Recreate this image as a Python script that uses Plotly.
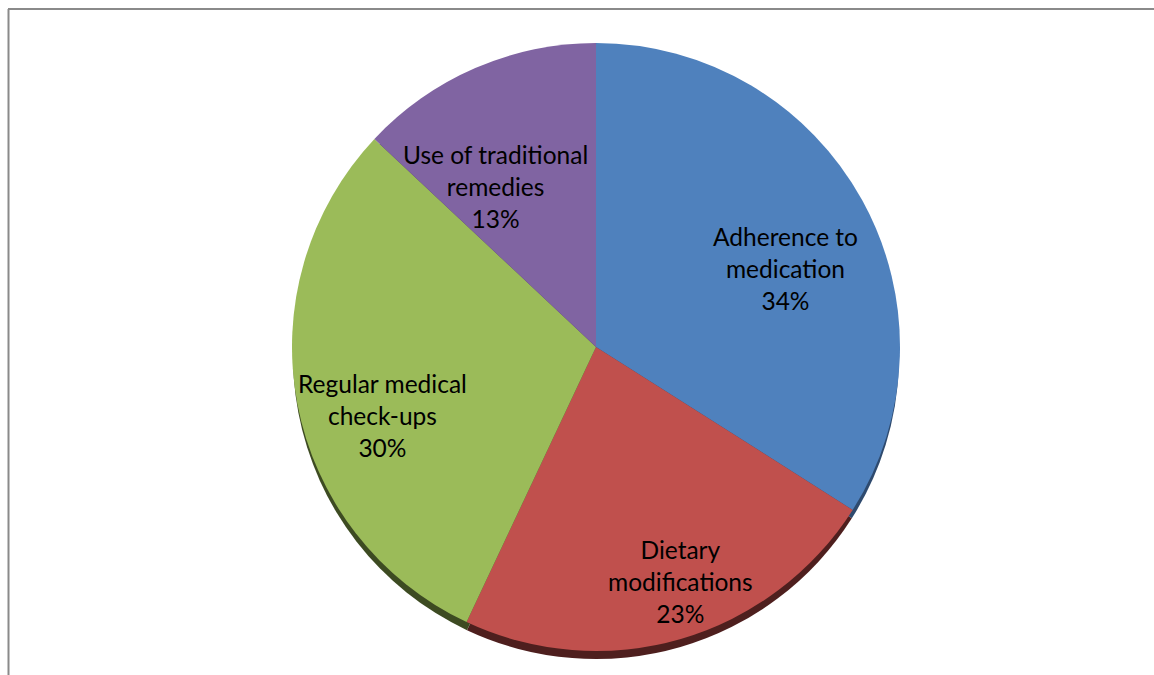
import plotly.graph_objects as go

categories = ["Adherence to medication", "Dietary modifications",
              "Regular medical check-ups", "Use of traditional remedies"]
label_lines = [["Adherence to", "medication"], ["Dietary", "modifications"],
               ["Regular medical", "check-ups"], ["Use of traditional", "remedies"]]
values = [34, 23, 30, 13]

colors = ["#4F81BD", "#C0504D", "#9BBB59", "#8064A2"]
shadow_colors = ["#2E4A6E", "#4E1F1E", "#3D4B22", "#4A3A5E"]
# label block centres in pixels (from top-left)
label_px = [(785, 268), (680, 581), (383, 415), (495, 186)]

W, H = 1154, 675
cx, cy, r = 596, 347, 304  # pixels (from top)


def dom(cx, cy, r):
    return dict(x=[(cx - r) / W, (cx + r) / W],
                y=[(H - cy - r) / H, (H - cy + r) / H])


fig = go.Figure()
# shadow (3D edge)
fig.add_trace(go.Pie(
    labels=categories, values=values, sort=False, direction="clockwise", rotation=0,
    marker=dict(colors=shadow_colors, line=dict(width=0)),
    textinfo="none", hoverinfo="skip", showlegend=False,
    domain=dom(cx, cy + 9, r - 1),
))
fig.add_trace(go.Pie(
    labels=categories, values=values, sort=False, direction="clockwise", rotation=0,
    marker=dict(colors=colors, line=dict(width=0)),
    textinfo="none", showlegend=False,
    domain=dom(cx, cy, r),
))

total = sum(values)
annotations = []
for lines, v, (px, py) in zip(label_lines, values, label_px):
    txt = "<br>".join(lines + [f"{round(100 * v / total)}%"])
    annotations.append(dict(
        text=txt, x=px / W, y=1 - py / H, xref="paper", yref="paper",
        xanchor="center", yanchor="middle", showarrow=False, align="center",
        font=dict(family="Lato, Open Sans, sans-serif", size=24.5, color="black"),
    ))

fig.update_layout(
    width=W, height=H, margin=dict(l=0, r=0, t=0, b=0),
    paper_bgcolor="white", plot_bgcolor="white",
    annotations=annotations,
    shapes=[
        dict(type="line", xref="paper", yref="paper", x0=8 / W, x1=1.01,
             y0=1 - 9 / H, y1=1 - 9 / H, line=dict(color="#8A8A8A", width=2)),
        dict(type="line", xref="paper", yref="paper", x0=8.5 / W, x1=8.5 / W,
             y0=-0.01, y1=1 - 9 / H, line=dict(color="#8A8A8A", width=2)),
    ],
)
fig.write_html("out.html")
